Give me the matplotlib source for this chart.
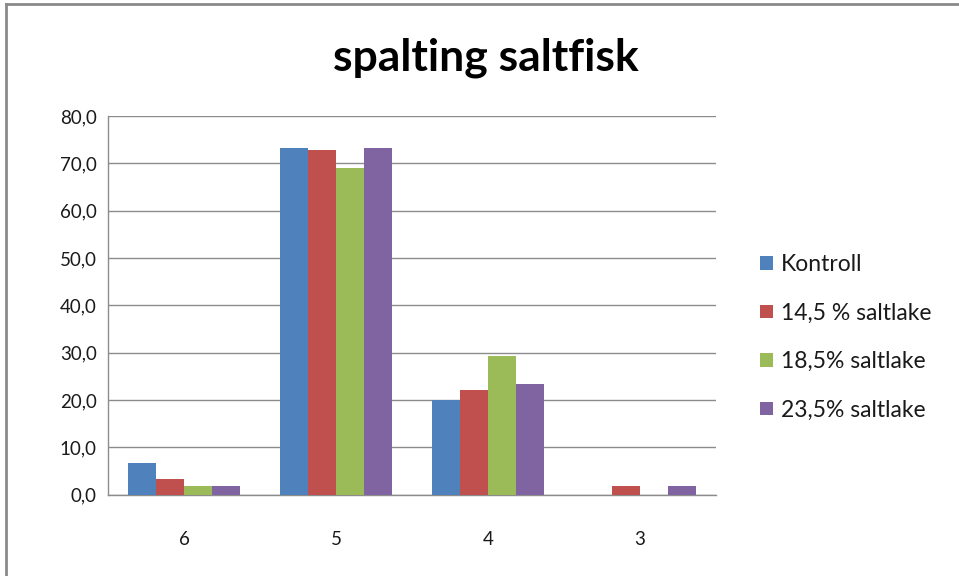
import matplotlib
matplotlib.use("Agg")
import matplotlib.pyplot as plt
from matplotlib.lines import Line2D
import numpy as np

plt.rcParams['font.family'] = ['Lato', 'DejaVu Sans']

categories = ["6", "5", "4", "3"]
series_names = ["Kontroll", "14,5 % saltlake", "18,5% saltlake", "23,5% saltlake"]
kontroll = [6.7, 73.3, 20.0, 0.0]
salt_145 = [3.3, 72.8, 22.0, 1.7]
salt_185 = [1.7, 69.0, 29.3, 0.0]
salt_235 = [1.7, 73.3, 23.3, 1.7]
colors = ["#4F81BD", "#C0504D", "#9BBB59", "#8064A2"]
title = "spalting saltfisk"
yticks = [0, 10, 20, 30, 40, 50, 60, 70, 80]

fig = plt.figure(figsize=(9.59, 5.76), dpi=100)
ax = fig.add_axes([108/959, 1-494.5/576, (716-108)/959, (494.5-116)/576])

x = np.arange(len(categories))
w = 0.184
all_series = [kontroll, salt_145, salt_185, salt_235]
for i, (vals, name, c) in enumerate(zip(all_series, series_names, colors)):
    ax.bar(x + (i - 1.5) * w, vals, width=w, color=c, label=name, zorder=3)

ax.set_xlim(-0.5, 3.5)
ax.set_ylim(0, 80)
ax.set_yticks(yticks)
ax.set_yticklabels([f"{v:.1f}".replace(".", ",") for v in yticks], fontsize=13.5, color="#1a1a1a")
ax.set_xticks(x)
ax.set_xticklabels(categories, fontsize=13.5, color="#1a1a1a")
ax.tick_params(axis='both', length=0)
ax.tick_params(axis='y', pad=8)
ax.tick_params(axis='x', pad=26)
ax.grid(axis='y', color="#8c8c8c", linewidth=1, zorder=0)
for s in ["top", "right"]:
    ax.spines[s].set_visible(False)
for s in ["left", "bottom"]:
    ax.spines[s].set_color("#8c8c8c")
    ax.spines[s].set_linewidth(1)

fig.text(486/959, 1-58/576, title, ha="center", va="center", fontsize=32, fontweight="bold", color="#000000")

leg = fig.legend(loc="upper left", bbox_to_anchor=(751/959, 1-245/576), frameon=False,
                 fontsize=16.5, handlelength=0.55, handleheight=0.55, handletextpad=0.35,
                 labelspacing=1.2, borderaxespad=0)
for t in leg.get_texts():
    t.set_color("#1a1a1a")

# outer chart border (top and left visible)
fig.add_artist(Line2D([6/959, 6/959], [0, 1-4/576], transform=fig.transFigure, color="#8a8a8a", lw=2))
fig.add_artist(Line2D([6/959, 1], [1-4/576, 1-4/576], transform=fig.transFigure, color="#8a8a8a", lw=2))

fig.savefig("out.png", dpi=100)
